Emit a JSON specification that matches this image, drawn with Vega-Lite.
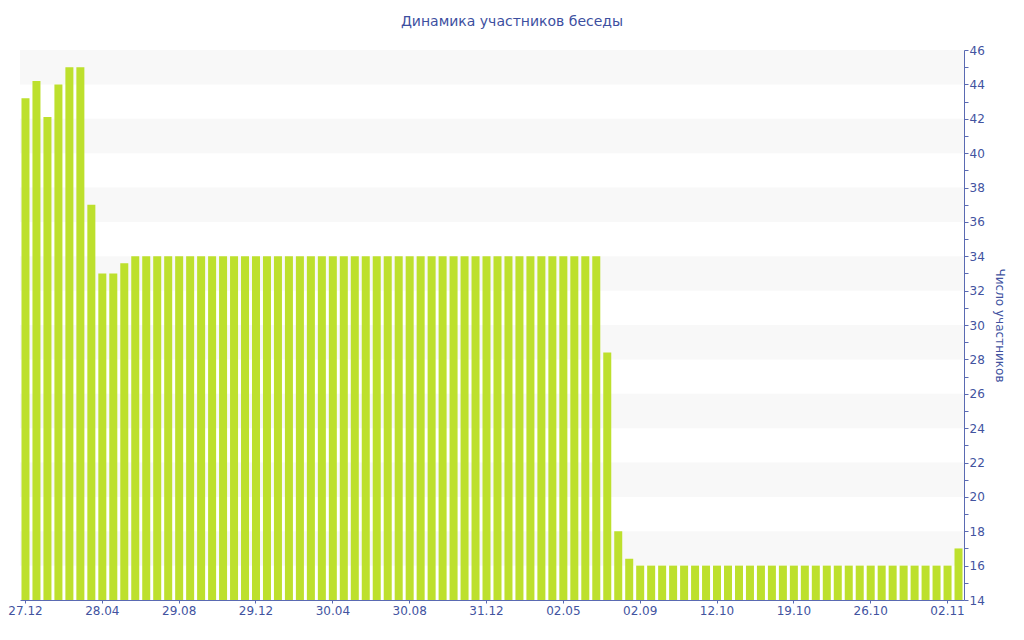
{
  "$schema": "https://vega.github.io/schema/vega-lite/v6.json",
  "width": 944,
  "height": 550,
  "autosize": {"type": "none"},
  "padding": {"left": 20, "top": 50, "right": 60, "bottom": 40},
  "background": "white",
  "title": {
    "text": "Динамика участников беседы",
    "font": "DejaVu Sans",
    "fontSize": 14,
    "fontWeight": "normal",
    "color": "#3d4f9f",
    "offset": 15,
    "dx": 20
  },
  "config": {
    "view": {"stroke": null},
    "axis": {
      "labelFont": "DejaVu Sans",
      "titleFont": "DejaVu Sans",
      "labelColor": "#42539f",
      "titleColor": "#42539f",
      "domainColor": "#5a6ab2",
      "tickColor": "#5a6ab2",
      "labelFontSize": 12,
      "titleFontSize": 12,
      "titleFontWeight": "normal"
    }
  },
  "layer": [
    {
      "data": {
        "values": [
          {"lo": 44, "hi": 46}, {"lo": 40, "hi": 42}, {"lo": 36, "hi": 38}, {"lo": 32, "hi": 34},
          {"lo": 28, "hi": 30}, {"lo": 24, "hi": 26}, {"lo": 20, "hi": 22}, {"lo": 16, "hi": 18}
        ]
      },
      "mark": {"type": "rect", "color": "#f8f8f8"},
      "encoding": {
        "y": {
          "field": "lo",
          "type": "quantitative",
          "scale": {"domain": [14, 46], "nice": false, "zero": false},
          "axis": {
            "orient": "right",
            "title": "Число участников",
            "values": [14, 15, 16, 17, 18, 19, 20, 21, 22, 23, 24, 25, 26, 27, 28, 29, 30, 31, 32, 33, 34, 35, 36, 37, 38, 39, 40, 41, 42, 43, 44, 45, 46],
            "labelExpr": "datum.value % 2 == 0 ? datum.label : ''",
            "tickSize": 4,
            "labelPadding": 1,
            "grid": false,
            "titlePadding": 8
          }
        },
        "y2": {"field": "hi"}
      }
    },
    {
      "data": {
        "values": [
          {"n": 0, "v": 43.2}, {"n": 1, "v": 44.2}, {"n": 2, "v": 42.1}, {"n": 3, "v": 44}, {"n": 4, "v": 45},
          {"n": 5, "v": 45}, {"n": 6, "v": 37}, {"n": 7, "v": 33}, {"n": 8, "v": 33}, {"n": 9, "v": 33.6},
          {"n": 10, "v": 34}, {"n": 11, "v": 34}, {"n": 12, "v": 34}, {"n": 13, "v": 34}, {"n": 14, "v": 34},
          {"n": 15, "v": 34}, {"n": 16, "v": 34}, {"n": 17, "v": 34}, {"n": 18, "v": 34}, {"n": 19, "v": 34},
          {"n": 20, "v": 34}, {"n": 21, "v": 34}, {"n": 22, "v": 34}, {"n": 23, "v": 34}, {"n": 24, "v": 34},
          {"n": 25, "v": 34}, {"n": 26, "v": 34}, {"n": 27, "v": 34}, {"n": 28, "v": 34}, {"n": 29, "v": 34},
          {"n": 30, "v": 34}, {"n": 31, "v": 34}, {"n": 32, "v": 34}, {"n": 33, "v": 34}, {"n": 34, "v": 34},
          {"n": 35, "v": 34}, {"n": 36, "v": 34}, {"n": 37, "v": 34}, {"n": 38, "v": 34}, {"n": 39, "v": 34},
          {"n": 40, "v": 34}, {"n": 41, "v": 34}, {"n": 42, "v": 34}, {"n": 43, "v": 34}, {"n": 44, "v": 34},
          {"n": 45, "v": 34}, {"n": 46, "v": 34}, {"n": 47, "v": 34}, {"n": 48, "v": 34}, {"n": 49, "v": 34},
          {"n": 50, "v": 34}, {"n": 51, "v": 34}, {"n": 52, "v": 34}, {"n": 53, "v": 28.4}, {"n": 54, "v": 18},
          {"n": 55, "v": 16.4}, {"n": 56, "v": 16}, {"n": 57, "v": 16}, {"n": 58, "v": 16}, {"n": 59, "v": 16},
          {"n": 60, "v": 16}, {"n": 61, "v": 16}, {"n": 62, "v": 16}, {"n": 63, "v": 16}, {"n": 64, "v": 16},
          {"n": 65, "v": 16}, {"n": 66, "v": 16}, {"n": 67, "v": 16}, {"n": 68, "v": 16}, {"n": 69, "v": 16},
          {"n": 70, "v": 16}, {"n": 71, "v": 16}, {"n": 72, "v": 16}, {"n": 73, "v": 16}, {"n": 74, "v": 16},
          {"n": 75, "v": 16}, {"n": 76, "v": 16}, {"n": 77, "v": 16}, {"n": 78, "v": 16}, {"n": 79, "v": 16},
          {"n": 80, "v": 16}, {"n": 81, "v": 16}, {"n": 82, "v": 16}, {"n": 83, "v": 16}, {"n": 84, "v": 16},
          {"n": 85, "v": 17}
        ]
      },
      "mark": {"type": "bar", "color": "#bde02d"},
      "encoding": {
        "x": {
          "field": "n",
          "type": "ordinal",
          "scale": {"paddingInner": 0.27, "paddingOuter": 0.135},
          "axis": {
            "orient": "bottom",
            "title": null,
            "values": [0, 7, 14, 21, 28, 35, 42, 49, 56, 63, 70, 77, 84],
            "labelExpr": "['27.12','28.04','29.08','29.12','30.04','30.08','31.12','02.05','02.09','12.10','19.10','26.10','02.11'][datum.value / 7]",
            "labelAngle": 0,
            "tickSize": 3,
            "labelPadding": 2,
            "grid": false
          }
        },
        "y": {
          "field": "v",
          "type": "quantitative",
          "scale": {"domain": [14, 46], "nice": false, "zero": false},
          "axis": {
            "orient": "right",
            "title": "Число участников",
            "values": [14, 15, 16, 17, 18, 19, 20, 21, 22, 23, 24, 25, 26, 27, 28, 29, 30, 31, 32, 33, 34, 35, 36, 37, 38, 39, 40, 41, 42, 43, 44, 45, 46],
            "labelExpr": "datum.value % 2 == 0 ? datum.label : ''",
            "tickSize": 4,
            "labelPadding": 1,
            "grid": false,
            "titlePadding": 8
          }
        },
        "y2": {"datum": 14}
      }
    }
  ]
}
